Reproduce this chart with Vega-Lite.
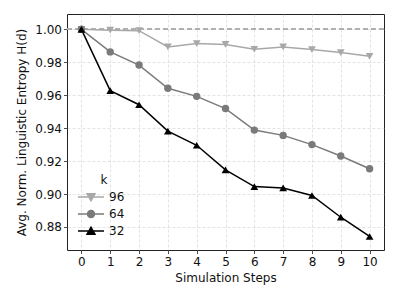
{
  "$schema": "https://vega.github.io/schema/vega-lite/v6.json",
  "autosize": "none",
  "width": 317,
  "height": 236,
  "padding": {"left": 67, "top": 14, "right": 15, "bottom": 49},
  "background": "white",
  "config": {
    "font": "DejaVu Sans",
    "view": {"stroke": "#222222", "strokeWidth": 1},
    "axis": {
      "labelFont": "DejaVu Sans", "labelFontSize": 12, "labelColor": "#111111",
      "titleFont": "DejaVu Sans", "titleFontSize": 12, "titleFontWeight": "normal", "titleColor": "#111111",
      "domain": false, "tickColor": "#222222", "tickSize": 3.5, "tickWidth": 0.8,
      "grid": true, "gridColor": "#cccccc", "gridDash": [3, 2], "gridWidth": 0.7, "gridOpacity": 0.8
    }
  },
  "data": {
    "values": [
      {"step": 0, "k": "96", "h": 1.0},
      {"step": 1, "k": "96", "h": 0.9995},
      {"step": 2, "k": "96", "h": 0.9992},
      {"step": 3, "k": "96", "h": 0.9893},
      {"step": 4, "k": "96", "h": 0.9914},
      {"step": 5, "k": "96", "h": 0.9908},
      {"step": 6, "k": "96", "h": 0.9879},
      {"step": 7, "k": "96", "h": 0.9893},
      {"step": 8, "k": "96", "h": 0.9877},
      {"step": 9, "k": "96", "h": 0.9859},
      {"step": 10, "k": "96", "h": 0.9836},
      {"step": 0, "k": "64", "h": 1.0},
      {"step": 1, "k": "64", "h": 0.9863},
      {"step": 2, "k": "64", "h": 0.9783},
      {"step": 3, "k": "64", "h": 0.9642},
      {"step": 4, "k": "64", "h": 0.9593},
      {"step": 5, "k": "64", "h": 0.9519},
      {"step": 6, "k": "64", "h": 0.9388},
      {"step": 7, "k": "64", "h": 0.9356},
      {"step": 8, "k": "64", "h": 0.9300},
      {"step": 9, "k": "64", "h": 0.9231},
      {"step": 10, "k": "64", "h": 0.9153},
      {"step": 0, "k": "32", "h": 1.0},
      {"step": 1, "k": "32", "h": 0.9628},
      {"step": 2, "k": "32", "h": 0.9542},
      {"step": 3, "k": "32", "h": 0.9382},
      {"step": 4, "k": "32", "h": 0.9296},
      {"step": 5, "k": "32", "h": 0.9147},
      {"step": 6, "k": "32", "h": 0.9045},
      {"step": 7, "k": "32", "h": 0.9037},
      {"step": 8, "k": "32", "h": 0.8991},
      {"step": 9, "k": "32", "h": 0.8859},
      {"step": 10, "k": "32", "h": 0.8742}
    ]
  },
  "encoding": {
    "x": {
      "field": "step", "type": "quantitative",
      "scale": {"domain": [-0.5, 10.5], "nice": false, "zero": false},
      "axis": {"values": [0,1,2,3,4,5,6,7,8,9,10], "title": "Simulation Steps", "labelPadding": 3, "titlePadding": 5, "labelFlush": false}
    },
    "y": {
      "field": "h", "type": "quantitative",
      "scale": {"domain": [0.866, 1.0093], "nice": false, "zero": false},
      "axis": {"values": [0.88, 0.90, 0.92, 0.94, 0.96, 0.98, 1.00], "format": ".2f", "title": "Avg. Norm. Linguistic Entropy H(d)", "labelPadding": 2, "titlePadding": 6, "labelFlush": false}
    },
    "color": {
      "field": "k", "type": "nominal",
      "scale": {"domain": ["96", "64", "32"], "range": ["#a8a8a8", "#7a7a7a", "#000000"]},
      "legend": {
        "title": "k", "orient": "none", "legendX": 16, "legendY": 161,
        "titleFontSize": 12, "titleFontWeight": "normal", "titleColor": "#111111",
        "titleAnchor": "middle", "titlePadding": 2,
        "labelFontSize": 12, "labelColor": "#111111", "labelOffset": 10,
        "symbolType": "M-1,0H1", "symbolSize": 196, "symbolStrokeWidth": 1.5, "rowPadding": 2,
        "encode": {
          "symbols": {
            "update": {
              "shape": {"signal": "datum.value == '96' ? 'M-1.86,0H1.86M-0.56,-0.45L0.56,-0.45L0,0.52Z' : datum.value == '64' ? 'M-1.86,0H1.86M-0.5,0A0.5,0.5,0,1,0,0.5,0A0.5,0.5,0,1,0,-0.5,0Z' : 'M-1.86,0H1.86M-0.56,0.45L0.56,0.45L0,-0.52Z'"},
              "fill": {"signal": "scale('color', datum.value)"},
              "stroke": {"signal": "scale('color', datum.value)"},
              "fillOpacity": {"value": 1},
              "opacity": {"value": 1}
            }
          }
        }
      }
    }
  },
  "layer": [
    {
      "mark": {"type": "rule", "strokeDash": [5, 3], "color": "#b0b0b0", "strokeWidth": 1.2},
      "encoding": {"y": {"datum": 1.0}, "x": null, "color": null}
    },
    {
      "mark": {"type": "line", "strokeWidth": 1.5}
    },
    {
      "transform": [{"filter": "datum.k == '96'"}],
      "mark": {"type": "point", "filled": true, "opacity": 1, "size": 60, "shape": "triangle-down"}
    },
    {
      "transform": [{"filter": "datum.k == '64'"}],
      "mark": {"type": "point", "filled": true, "opacity": 1, "size": 55, "shape": "circle"}
    },
    {
      "transform": [{"filter": "datum.k == '32'"}],
      "mark": {"type": "point", "filled": true, "opacity": 1, "size": 60, "shape": "triangle-up"}
    }
  ]
}
